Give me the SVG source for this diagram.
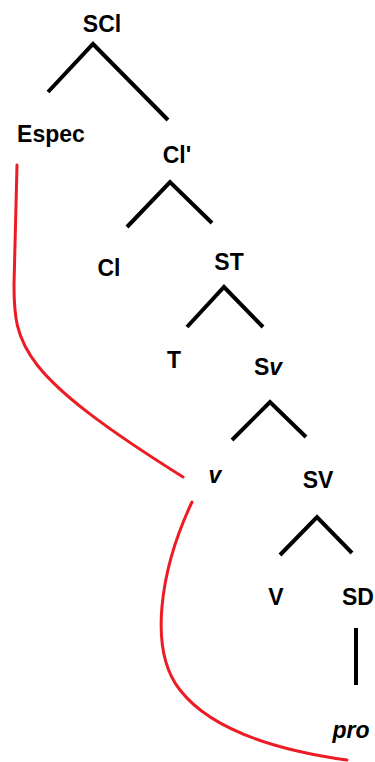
<svg xmlns="http://www.w3.org/2000/svg" width="375" height="762" viewBox="0 0 375 762">
  <style>
    .lbl { font-family: "Liberation Sans", Arial, sans-serif; font-weight: bold; font-size: 23px; fill: #000; text-anchor: middle; }
    .it { font-style: italic; }
    .branch { fill: none; stroke: #000; stroke-width: 4; stroke-linejoin: miter; stroke-linecap: butt; }
    .move { fill: none; stroke: #ed1c24; stroke-width: 3; stroke-linecap: round; }
  </style>
  <rect width="375" height="762" fill="#fff"/>

  <!-- tree branches and movement curves -->
  <g id="connectors">
    <path class="branch" d="M48,92 L93,44 L168,120"/>
    <path class="branch" d="M127,227 L170,182 L212,223"/>
    <path class="branch" d="M187,327 L224,287 L263,327"/>
    <path class="branch" d="M232,440 L270,402 L306,437"/>
    <path class="branch" d="M280,555 L317,517 L352,553"/>
    <path class="branch" d="M356,628 L356,685"/>
    <path class="move" d="M17,165 L14,285 C14,345 20,375 183,477"/>
    <path class="move" d="M192,502 C160,570 148,650 180,690 C215,735 290,752 347,760"/>
  </g>

  <g id="n-SCl"><text class="lbl" x="102" y="32">SCl</text></g>
  <g id="n-Espec"><text class="lbl" x="51" y="142">Espec</text></g>
  <g id="n-Cl-bar"><text class="lbl" x="177" y="163">Cl'</text></g>
  <g id="n-Cl"><text class="lbl" x="109" y="276">Cl</text></g>
  <g id="n-ST"><text class="lbl" x="229" y="270">ST</text></g>
  <g id="n-T"><text class="lbl" x="174" y="368">T</text></g>
  <g id="n-Sv"><text class="lbl" x="268" y="375">S<tspan class="it">v</tspan></text></g>
  <g id="n-v"><text class="lbl it" x="215" y="483">v</text></g>
  <g id="n-SV"><text class="lbl" x="318" y="488">SV</text></g>
  <g id="n-V"><text class="lbl" x="276" y="605">V</text></g>
  <g id="n-SD"><text class="lbl" x="358" y="605">SD</text></g>
  <g id="n-pro"><text class="lbl it" x="351" y="738">pro</text></g>
</svg>
